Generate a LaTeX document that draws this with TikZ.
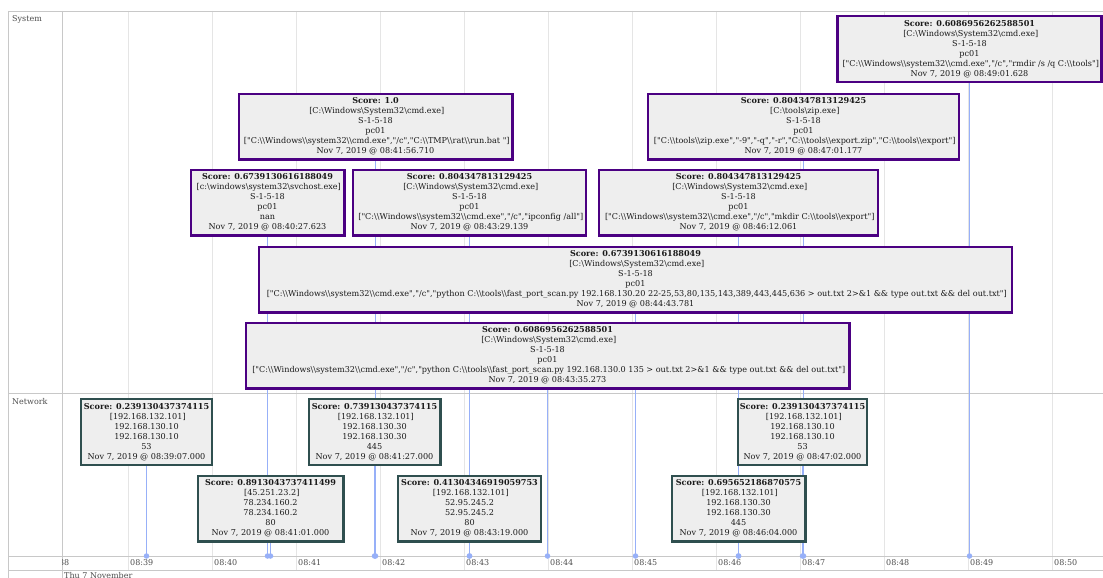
\documentclass[tikz,border=0pt]{standalone}
\usepackage{fontspec}
\setmainfont{DejaVu Serif}[Ligatures=TeXOff]
\usetikzlibrary{backgrounds}
\newcommand\mybs{\textbackslash}
\definecolor{sysc}{RGB}{75,0,130}
\definecolor{netc}{RGB}{47,79,79}
\definecolor{boxfill}{RGB}{238,238,238}
\definecolor{itemline}{RGB}{151,176,248}
\definecolor{gridc}{RGB}{229,229,229}
\definecolor{framec}{RGB}{200,200,200}
\definecolor{labc}{RGB}{77,77,77}
\definecolor{boxtext}{RGB}{25,25,25}
\tikzset{
  evbox/.style={draw, line width=2.4pt, fill=boxfill, align=center, inner xsep=2pt, inner ysep=0pt,
    minimum height=65.6pt, font=\fontsize{8.1}{10}\selectfont, text=boxtext},
  sysbox/.style={evbox, draw=sysc},
  netbox/.style={evbox, draw=netc},
  gridline/.style={draw=gridc, line width=0.8pt},
  frameline/.style={draw=framec, line width=0.8pt},
  itemln/.style={draw=itemline, line width=1pt},
  evdot/.style={circle, fill=itemline, inner sep=0pt, minimum size=5.5pt},
  axlabel/.style={anchor=west, inner sep=0pt, font=\fontsize{8}{10}\selectfont, text=labc},
  grplabel/.style={anchor=west, inner sep=0pt, font=\fontsize{8}{10}\selectfont, text=labc}
}
\begin{document}
\begin{tikzpicture}[x=1pt,y=-1pt]
\useasboundingbox (0,0) rectangle (1103,578);

% ---------- system group ----------
\node[sysbox, minimum width=264pt] (s1) at (969.5,49) {\textbf{Score: 0.6086956262588501}\\{}
[C:\mybs Windows\mybs System32\mybs cmd.exe]\\S-1-5-18\\pc01\\{}
["C:\mybs\mybs Windows\mybs\mybs system32\mybs\mybs cmd.exe","/c","rmdir /s /q C:\mybs\mybs tools"]\\
Nov 7, 2019 @ 08:49:01.628};

\node[sysbox, minimum width=273.6pt] (s2) at (375.5,126.5) {\textbf{Score: 1.0}\\{}
[C:\mybs Windows\mybs System32\mybs cmd.exe]\\S-1-5-18\\pc01\\{}
["C:\mybs\mybs Windows\mybs\mybs system32\mybs\mybs cmd.exe","/c","C:\mybs\mybs TMP\mybs\mybs rat\mybs\mybs run.bat "]\\
Nov 7, 2019 @ 08:41:56.710};

\node[sysbox, minimum width=310.6pt] (s3) at (803.5,126.5) {\textbf{Score: 0.804347813129425}\\{}
[C:\mybs tools\mybs zip.exe]\\S-1-5-18\\pc01\\{}
["C:\mybs\mybs tools\mybs\mybs zip.exe","-9","-q","-r","C:\mybs\mybs tools\mybs\mybs export.zip","C:\mybs\mybs tools\mybs\mybs export"]\\
Nov 7, 2019 @ 08:47:01.177};

\node[sysbox, minimum width=153.6pt] (s4) at (267.5,202.5) {\textbf{Score: 0.6739130616188049}\\{}
[c:\mybs windows\mybs system32\mybs svchost.exe]\\S-1-5-18\\pc01\\nan\\
Nov 7, 2019 @ 08:40:27.623};

\node[sysbox, minimum width=232.6pt] (s5) at (469.5,202.5) {\textbf{Score: 0.804347813129425}\\{}
[C:\mybs Windows\mybs System32\mybs cmd.exe]\\S-1-5-18\\pc01\\{}
["C:\mybs\mybs Windows\mybs\mybs system32\mybs\mybs cmd.exe","/c","ipconfig /all"]\\
Nov 7, 2019 @ 08:43:29.139};

\node[sysbox, minimum width=278.6pt] (s6) at (738.5,202.5) {\textbf{Score: 0.804347813129425}\\{}
[C:\mybs Windows\mybs System32\mybs cmd.exe]\\S-1-5-18\\pc01\\{}
["C:\mybs\mybs Windows\mybs\mybs system32\mybs\mybs cmd.exe","/c","mkdir C:\mybs\mybs tools\mybs\mybs export"]\\
Nov 7, 2019 @ 08:46:12.061};

\node[sysbox, minimum width=752.6pt] (s7) at (635.5,279.5) {\textbf{Score: 0.6739130616188049}\\{}
[C:\mybs Windows\mybs System32\mybs cmd.exe]\\S-1-5-18\\pc01\\{}
["C:\mybs\mybs Windows\mybs\mybs system32\mybs\mybs cmd.exe","/c","python C:\mybs\mybs tools\mybs\mybs fast\_port\_scan.py 192.168.130.20 22-25,53,80,135,143,389,443,445,636 > out.txt 2>\&1 \&\& type out.txt \&\& del out.txt"]\\
Nov 7, 2019 @ 08:44:43.781};

\node[sysbox, minimum width=603.6pt] (s8) at (547.5,355.5) {\textbf{Score: 0.6086956262588501}\\{}
[C:\mybs Windows\mybs System32\mybs cmd.exe]\\S-1-5-18\\pc01\\{}
["C:\mybs\mybs Windows\mybs\mybs system32\mybs\mybs cmd.exe","/c","python C:\mybs\mybs tools\mybs\mybs fast\_port\_scan.py 192.168.130.0 135 > out.txt 2>\&1 \&\& type out.txt \&\& del out.txt"]\\
Nov 7, 2019 @ 08:43:35.273};

% ---------- network group ----------
\node[netbox, minimum width=130.6pt] (n1) at (146.5,432) {\textbf{Score: 0.239130437374115}\\{}
[192.168.132.101]\\192.168.130.10\\192.168.130.10\\53\\Nov 7, 2019 @ 08:39:07.000};
\node[netbox, minimum width=145.6pt] (n2) at (270.5,508.5) {\textbf{Score: 0.8913043737411499}\\{}
[45.251.23.2]\\78.234.160.2\\78.234.160.2\\80\\Nov 7, 2019 @ 08:41:01.000};
\node[netbox, minimum width=131.6pt] (n3) at (374.5,432) {\textbf{Score: 0.739130437374115}\\{}
[192.168.132.101]\\192.168.130.30\\192.168.130.30\\445\\Nov 7, 2019 @ 08:41:27.000};
\node[netbox, minimum width=142.6pt] (n4) at (469.5,508.5) {\textbf{Score: 0.41304346919059753}\\{}
[192.168.132.101]\\52.95.245.2\\52.95.245.2\\80\\Nov 7, 2019 @ 08:43:19.000};
\node[netbox, minimum width=133.6pt] (n5) at (738.5,508.5) {\textbf{Score: 0.695652186870575}\\{}
[192.168.132.101]\\192.168.130.30\\192.168.130.30\\445\\Nov 7, 2019 @ 08:46:04.000};
\node[netbox, minimum width=127.6pt] (n6) at (802.5,432) {\textbf{Score: 0.239130437374115}\\{}
[192.168.132.101]\\192.168.130.10\\192.168.130.10\\53\\Nov 7, 2019 @ 08:47:02.000};

% ---------- dots on the axis ----------
\foreach \nm/\xx in {s1/969.5,s2/375.5,s3/803.5,s4/267.5,s5/469.5,s6/738.5,s7/635.5,s8/547.5,
                    n1/146.5,n2/270.5,n3/374.5,n4/469.5,n5/738.5,n6/802.5}{
  \node[evdot] (d\nm) at (\xx,556) {};
}

\begin{scope}[on background layer]
  \fill[white] (0,0) rectangle (1103,578);
  % grid
  \foreach \gx in {128.5,212.5,...,1052.5}{
    \draw[gridline] (\gx,11) -- (\gx,570);
  }
  % frame
  \draw[frameline] (8,11) -- (1103,11);
  \draw[frameline] (8,393) -- (1103,393);
  \draw[frameline] (8,556) -- (1103,556);
  \draw[frameline] (8,570) -- (1103,570);
  \draw[frameline] (8,11) -- (8,578);
  \draw[frameline] (62,11) -- (62,578);
  % item lines
  \foreach \nm in {s1,s2,s3,s4,s5,s6,s7,s8,n1,n2,n3,n4,n5,n6}{
    \draw[itemln] (\nm.south) -- (d\nm.center);
  }
\end{scope}

% ---------- labels ----------
\node[grplabel] (lsys) at (12,19) {System};
\node[grplabel] (lnet) at (12,402) {Network};

\begin{scope}
  \clip (62.5,556) rectangle (1103,578);
  \node[axlabel] (t38) at (46,563) {08:38};
  \node[axlabel] (t39) at (130,563) {08:39};
  \node[axlabel] (t40) at (214,563) {08:40};
  \node[axlabel] (t41) at (298,563) {08:41};
  \node[axlabel] (t42) at (382,563) {08:42};
  \node[axlabel] (t43) at (466,563) {08:43};
  \node[axlabel] (t44) at (550,563) {08:44};
  \node[axlabel] (t45) at (634,563) {08:45};
  \node[axlabel] (t46) at (718,563) {08:46};
  \node[axlabel] (t47) at (802,563) {08:47};
  \node[axlabel] (t48) at (886,563) {08:48};
  \node[axlabel] (t49) at (970,563) {08:49};
  \node[axlabel] (t50) at (1054,563) {08:50};
  \node[axlabel, anchor=north west] (tday) at (64,572) {Thu 7 November};
\end{scope}
\end{tikzpicture}
\end{document}
